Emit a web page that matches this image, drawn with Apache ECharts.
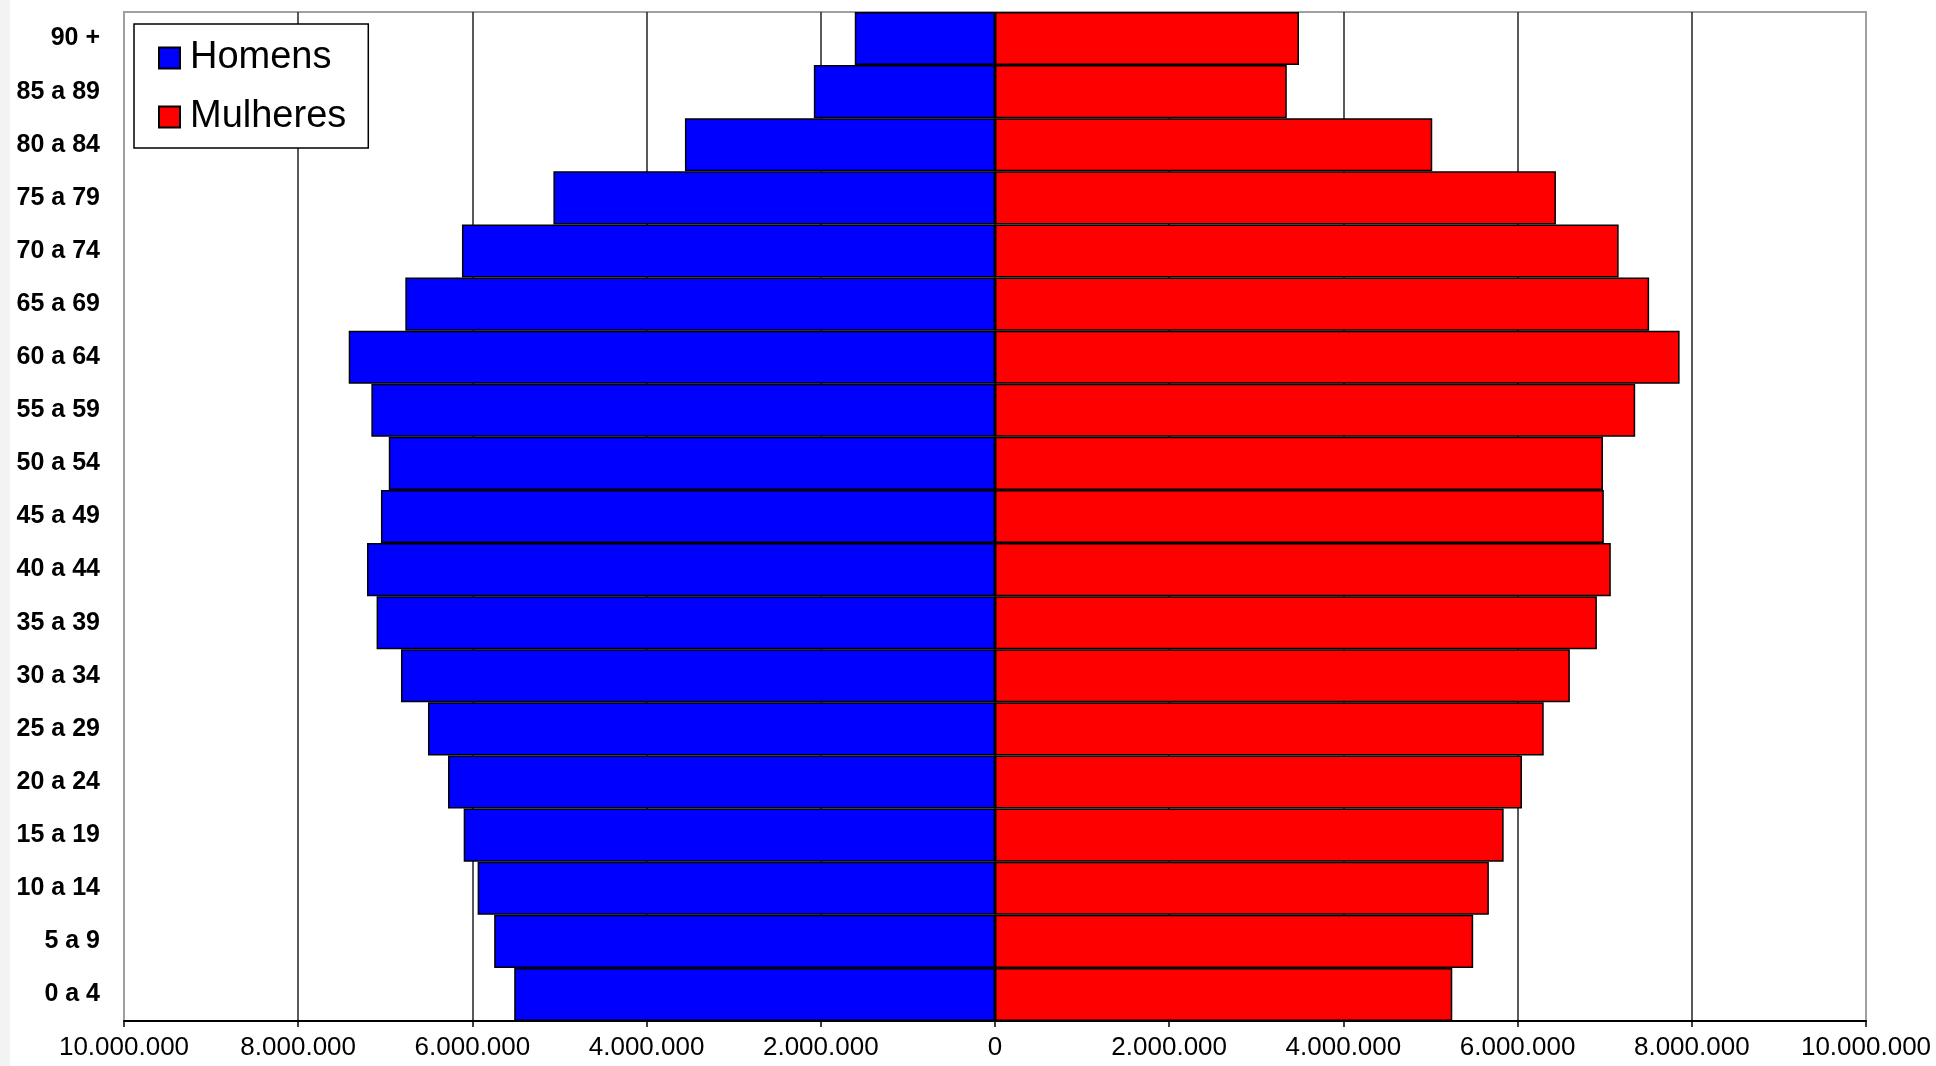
<!DOCTYPE html>
<html>
<head>
<meta charset="utf-8">
<script src="https://cdn.jsdelivr.net/npm/echarts@6/dist/echarts.min.js"></script>
<style>
  html, body { margin: 0; padding: 0; background: #ffffff; }
  #chart { width: 1936px; height: 1066px; }
</style>
</head>
<body>
<div id="chart"></div>
<script>
// Age groups, bottom to top
const ageGroups = ['0 a 4', '5 a 9', '10 a 14', '15 a 19', '20 a 24', '25 a 29', '30 a 34',
  '35 a 39', '40 a 44', '45 a 49', '50 a 54', '55 a 59', '60 a 64', '65 a 69', '70 a 74',
  '75 a 79', '80 a 84', '85 a 89', '90 +'];

// Population (persons)
const homens = [5520000, 5750000, 5940000, 6100000, 6280000, 6510000, 6820000, 7100000,
  7210000, 7050000, 6960000, 7160000, 7420000, 6770000, 6120000, 5070000, 3560000, 2080000, 1610000];
const mulheres = [5250000, 5490000, 5670000, 5840000, 6050000, 6300000, 6600000, 6910000,
  7070000, 6990000, 6980000, 7350000, 7860000, 7510000, 7160000, 6440000, 5020000, 3350000, 3490000];

const seriesNames = ['Homens', 'Mulheres'];
const xMin = -10000000, xMax = 10000000, xStep = 2000000;

function fmt(v) {
  return Math.abs(v).toString().replace(/\B(?=(\d{3})+(?!\d))/g, '.');
}

const FONT = '"Liberation Sans", Arial, sans-serif';
const chart = echarts.init(document.getElementById('chart'), null, { renderer: 'canvas' });
chart.setOption({
  animation: false,
  backgroundColor: '#ffffff',
  graphic: [{
    type: 'rect', left: 0, top: 0, z: -10,
    shape: { width: 10, height: 1066 },
    style: { fill: '#f3f3f3' }
  }],
  grid: {
    left: 124, right: 70, top: 12, bottom: 45,
    show: true, borderColor: '#a0a0a0', borderWidth: 2, backgroundColor: '#ffffff'
  },
  legend: {
    orient: 'vertical', left: 134, top: 24,
    padding: [15, 22, 12, 24],
    itemWidth: 21, itemHeight: 21, itemGap: 21,
    borderColor: '#000', borderWidth: 1.5, backgroundColor: '#ffffff',
    icon: 'rect',
    textStyle: { fontSize: 38, fontFamily: FONT, color: '#000', padding: [0, 0, 0, 5] },
    data: seriesNames
  },
  xAxis: {
    type: 'value', min: xMin, max: xMax, interval: xStep,
    axisLine: { show: true, onZero: false, lineStyle: { color: '#000', width: 2 } },
    axisTick: { show: true, length: 6, lineStyle: { color: '#000', width: 1.5 } },
    axisLabel: { formatter: fmt, fontSize: 26, fontFamily: FONT, color: '#000', margin: 14 },
    splitLine: { show: true, showMinLine: false, showMaxLine: false, lineStyle: { color: '#222', width: 1.5 } }
  },
  yAxis: {
    type: 'category', data: ageGroups,
    axisLine: { show: false }, axisTick: { show: false },
    axisLabel: { fontSize: 25, fontWeight: 'bold', fontFamily: FONT, color: '#000', margin: 24 }
  },
  series: [
    {
      name: seriesNames[0], type: 'bar', data: homens.map(v => -v),
      barCategoryGap: '0%', barGap: '-100%',
      itemStyle: { color: '#0000ff', borderColor: '#000', borderWidth: 1.5 }
    },
    {
      name: seriesNames[1], type: 'bar', data: mulheres,
      barCategoryGap: '0%', barGap: '-100%',
      itemStyle: { color: '#ff0000', borderColor: '#000', borderWidth: 1.5 }
    }
  ]
});
</script>
</body>
</html>
